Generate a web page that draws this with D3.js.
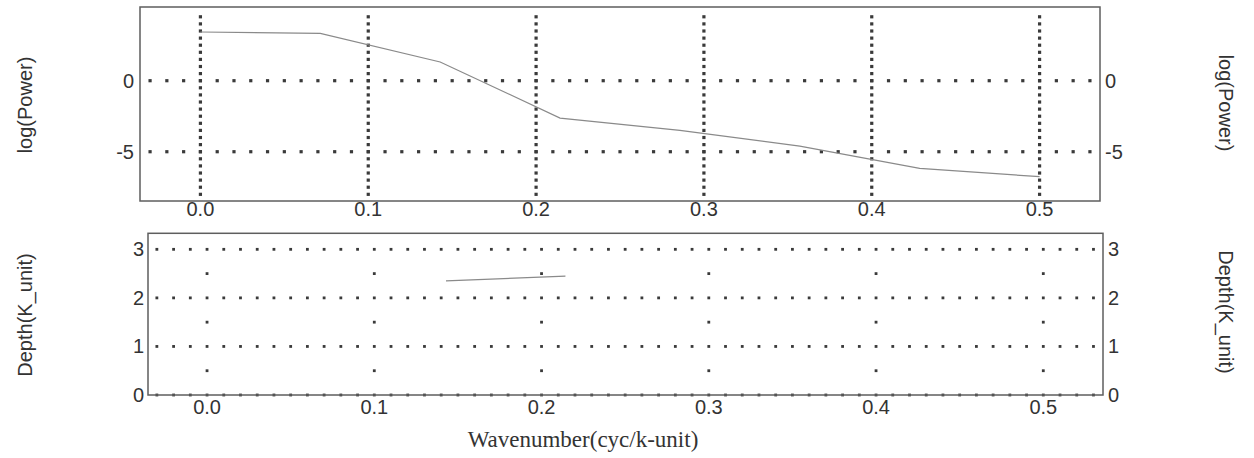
<!DOCTYPE html>
<html><head><meta charset="utf-8">
<script src="https://cdn.jsdelivr.net/npm/d3@7"></script>
<style>body{margin:0;background:#fff}svg{display:block}</style>
</head><body>
<script>
// ---- data ----
const wavenumber = [0, 1/14, 2/14, 3/14, 4/14, 5/14, 6/14, 7/14];
const logPower = [3.43, 3.33, 1.32, -2.63, -3.5, -4.6, -6.17, -6.76];
const depthX = [2/14, 3/14];
const depthY = [2.35, 2.45];
const xTicks = [0, 0.1, 0.2, 0.3, 0.4, 0.5];
const xTickLabels = ["0.0", "0.1", "0.2", "0.3", "0.4", "0.5"];
const powerTicks = [0, -5];
const depthTicks = [0, 1, 2, 3];
const halfDepths = [0.5, 1.5, 2.5];

(function () {
const W = 1254, H = 458;
const svg = d3.select("body").append("svg").attr("width", W).attr("height", H);
const font = "'Liberation Sans', Arial, sans-serif";
const fs = 20;
const frameColor = "#5e5e5e", dotColor = "#3a3a3a", textColor = "#333";

// ---- top panel ----
const xT = d3.scaleLinear().domain([-0.036, 0.536]).range([140, 1100]);
const yT = d3.scaleLinear().domain([-8.47, 5.19]).range([201, 7]);
const gTop = svg.append("g");
const hDots = d3.range(-3, 54).map(i => i / 100);
powerTicks.forEach(v => {
  gTop.selectAll(null).data(hDots).enter().append("rect")
    .attr("x", d => xT(d) - 1.6).attr("y", yT(v) - 1.6)
    .attr("width", 3.2).attr("height", 3.2).attr("fill", dotColor);
});
const vDots = d3.range(-16, 10).map(i => i / 2);
xTicks.forEach(t => {
  gTop.selectAll(null).data(vDots).enter().append("rect")
    .attr("x", xT(t) - 1.6).attr("y", d => yT(d) - 1.6)
    .attr("width", 3.2).attr("height", 3.2).attr("fill", dotColor);
});
gTop.append("rect").attr("x", xT.range()[0]).attr("y", yT.range()[1])
  .attr("width", xT.range()[1] - xT.range()[0]).attr("height", yT.range()[0] - yT.range()[1])
  .attr("fill", "none").attr("stroke", frameColor).attr("stroke-width", 1.5);
gTop.append("path").datum(wavenumber.map((w, i) => [w, logPower[i]]))
  .attr("d", d3.line().x(d => xT(d[0])).y(d => yT(d[1])))
  .attr("fill", "none").attr("stroke", "#8a8a8a").attr("stroke-width", 1.2);
gTop.selectAll(null).data(xTicks).enter().append("text")
  .attr("x", d => xT(d)).attr("y", 216).attr("text-anchor", "middle")
  .attr("font-family", font).attr("font-size", fs).attr("fill", textColor)
  .text((d, i) => xTickLabels[i]);
gTop.selectAll(null).data(powerTicks).enter().append("text")
  .attr("x", 134).attr("y", d => yT(d) + 7).attr("text-anchor", "end")
  .attr("font-family", font).attr("font-size", fs).attr("fill", textColor)
  .text(d => d);
gTop.selectAll(null).data(powerTicks).enter().append("text")
  .attr("x", 1105).attr("y", d => yT(d) + 7).attr("text-anchor", "start")
  .attr("font-family", font).attr("font-size", fs).attr("fill", textColor)
  .text(d => d);
gTop.append("text").attr("transform", "translate(32,105) rotate(-90)")
  .attr("text-anchor", "middle").attr("font-family", font).attr("font-size", fs)
  .attr("fill", textColor).text("log(Power)");
gTop.append("text").attr("transform", "translate(1219,103) rotate(90)")
  .attr("text-anchor", "middle").attr("font-family", font).attr("font-size", fs)
  .attr("fill", textColor).text("log(Power)");

// ---- bottom panel ----
const xB = d3.scaleLinear().domain([-0.0353, 0.5357]).range([148, 1103]);
const yB = d3.scaleLinear().domain([0, 3.33]).range([395, 233.3]);
const gBot = svg.append("g");
depthTicks.forEach(v => {
  gBot.selectAll(null).data(hDots).enter().append("rect")
    .attr("x", d => xB(d) - 1.4).attr("y", yB(v) - 1.4)
    .attr("width", 2.8).attr("height", 2.8).attr("fill", dotColor);
});
halfDepths.forEach(v => {
  gBot.selectAll(null).data(xTicks).enter().append("rect")
    .attr("x", d => xB(d) - 1.4).attr("y", yB(v) - 1.4)
    .attr("width", 2.8).attr("height", 2.8).attr("fill", dotColor);
});
gBot.append("rect").attr("x", xB.range()[0]).attr("y", yB.range()[1])
  .attr("width", xB.range()[1] - xB.range()[0]).attr("height", yB.range()[0] - yB.range()[1])
  .attr("fill", "none").attr("stroke", frameColor).attr("stroke-width", 1.5);
gBot.append("path").datum(depthX.map((w, i) => [w, depthY[i]]))
  .attr("d", d3.line().x(d => xB(d[0])).y(d => yB(d[1])))
  .attr("fill", "none").attr("stroke", "#8a8a8a").attr("stroke-width", 1.2);
gBot.selectAll(null).data(xTicks).enter().append("text")
  .attr("x", d => xB(d)).attr("y", 414).attr("text-anchor", "middle")
  .attr("font-family", font).attr("font-size", fs).attr("fill", textColor)
  .text((d, i) => xTickLabels[i]);
gBot.selectAll(null).data(depthTicks).enter().append("text")
  .attr("x", 144).attr("y", d => yB(d) + 7).attr("text-anchor", "end")
  .attr("font-family", font).attr("font-size", fs).attr("fill", textColor)
  .text(d => d);
gBot.selectAll(null).data(depthTicks).enter().append("text")
  .attr("x", 1108).attr("y", d => yB(d) + 7).attr("text-anchor", "start")
  .attr("font-family", font).attr("font-size", fs).attr("fill", textColor)
  .text(d => d);
gBot.append("text").attr("transform", "translate(32,315) rotate(-90)")
  .attr("text-anchor", "middle").attr("font-family", font).attr("font-size", fs)
  .attr("fill", textColor).text("Depth(K_unit)");
gBot.append("text").attr("transform", "translate(1219,312) rotate(90)")
  .attr("text-anchor", "middle").attr("font-family", font).attr("font-size", fs)
  .attr("fill", textColor).text("Depth(K_unit)");
svg.append("text").attr("x", 583).attr("y", 447).attr("text-anchor", "middle")
  .attr("font-family", "'Liberation Serif', 'Times New Roman', serif").attr("font-size", 23)
  .attr("fill", "#333").text("Wavenumber(cyc/k-unit)");
})();
</script>
</body></html>
